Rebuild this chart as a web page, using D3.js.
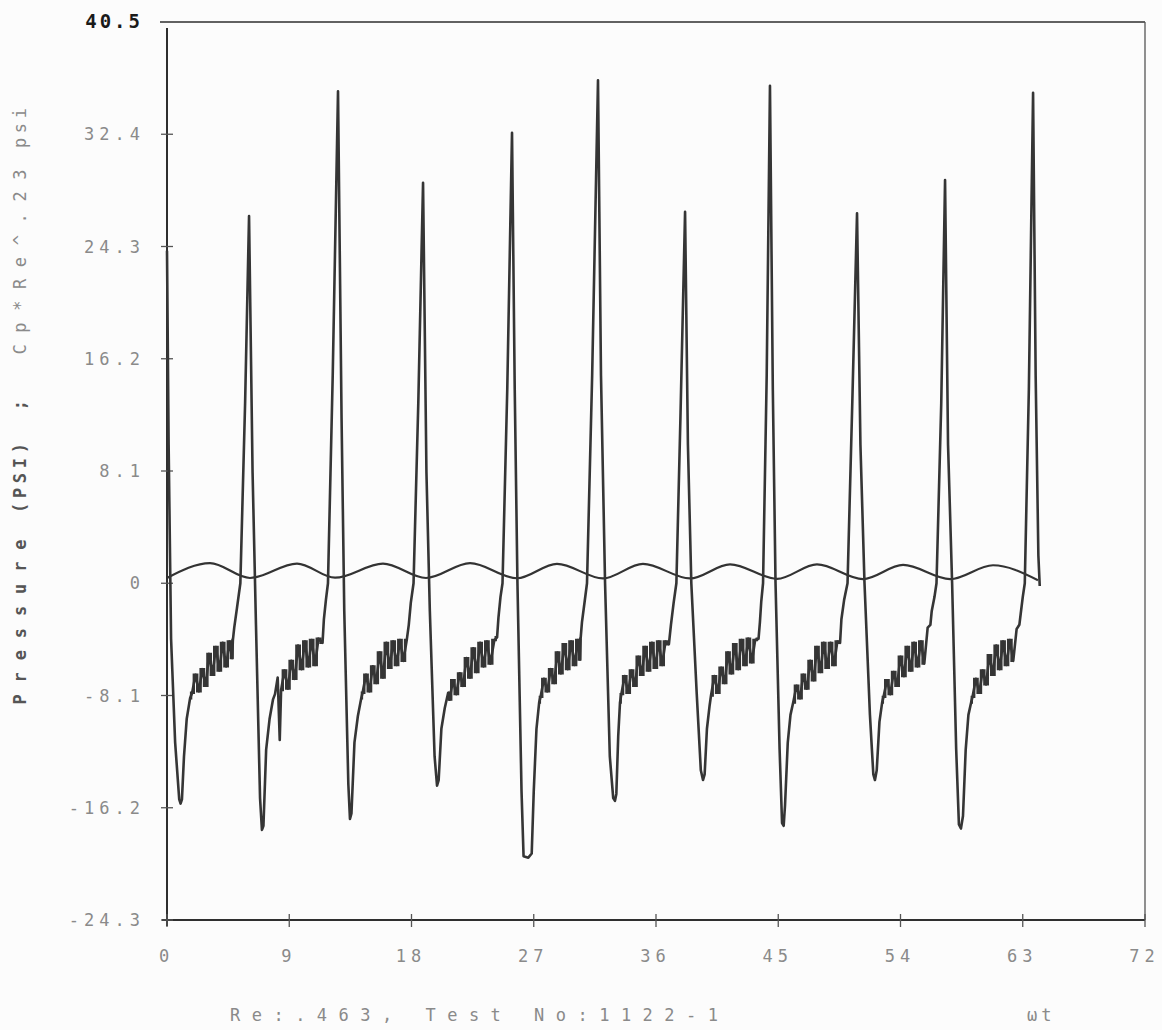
<!DOCTYPE html>
<html><head><meta charset="utf-8">
<script src="https://cdn.jsdelivr.net/npm/d3@7"></script>
<style>html,body{margin:0;padding:0;background:#fcfcfc;} svg{display:block;}</style>
</head><body><svg id="c" width="1162" height="1030"></svg>
<script>
// ---- data ----
const xTicks = [0, 9, 18, 27, 36, 45, 54, 63, 72];
const xTickLabels = ["0", "9", "18", "27", "36", "45", "54", "63", "72"];
const yTicks = [40.5, 32.4, 24.3, 16.2, 8.1, 0, -8.1, -16.2, -24.3];
const yTickLabels = ["40.5", "32.4", "24.3", "16.2", "8.1", "0", "-8.1", "-16.2", "-24.3"];

// Cp*Re^.23 wave (psi): extremes
const waveT = [0, 3.17, 6.11, 9.57, 12.37, 15.9, 19.07, 22.31, 25.77, 28.71, 32.10, 35.04, 38.5, 41.45, 44.91, 47.85, 51.24, 54.19, 57.65, 60.81, 64.12];
const waveV = [0.38, 1.45, 0.38, 1.42, 0.40, 1.42, 0.38, 1.45, 0.36, 1.40, 0.35, 1.40, 0.35, 1.36, 0.32, 1.36, 0.30, 1.32, 0.30, 1.30, 0.22];

// Pressure (psi) trace [wt, p]
const pressure = [
 [0,24.0],[0.12,10.0],[0.3,-4.0],[0.6,-11.5],[0.9,-15.6],[1.0,-15.9],[1.1,-15.6],[1.25,-12.5],[1.45,-9.8],[1.7,-8.3],
 [1.85,-7.9],[2.1,-6.6],[2.35,-7.8],[2.6,-6.2],[2.85,-7.4],[3.1,-5.1],[3.35,-6.6],[3.6,-4.6],[3.85,-6.3],[4.1,-4.3],[4.35,-6.0],[4.6,-4.2],[4.8,-5.4],[4.85,-4.1],
 [4.95,-3.2],[5.15,-1.8],[5.4,0.0],[5.75,13.0],[6.04,26.5],
 [6.3,8.0],[6.55,-3.0],[6.85,-15.5],[6.99,-17.8],[7.1,-17.5],[7.3,-12.0],[7.55,-9.8],[7.8,-8.4],
 [7.95,-8.0],[8.15,-6.8],[8.3,-11.3],[8.4,-7.7],[8.65,-6.3],[8.9,-7.6],[9.15,-5.6],[9.4,-6.9],[9.65,-4.5],[9.9,-6.2],[10.15,-4.2],[10.4,-6.0],[10.65,-4.1],[10.9,-5.9],[11.15,-4.0],[11.45,-4.3],
 [11.55,-2.6],[11.7,-1.2],[11.85,0.0],[12.2,15.0],[12.59,35.5],
 [12.85,12.0],[13.05,-2.0],[13.35,-14.5],[13.47,-17.0],[13.58,-16.6],[13.8,-11.5],[14.05,-9.6],[14.3,-8.3],
 [14.4,-7.9],[14.65,-6.6],[14.9,-7.8],[15.15,-6.0],[15.4,-7.2],[15.65,-5.0],[15.9,-6.8],[16.15,-4.3],[16.4,-6.1],[16.65,-4.2],[16.9,-5.9],[17.15,-4.1],[17.4,-5.6],[17.65,-4.1],
 [17.8,-3.0],[17.95,-1.4],[18.15,0.0],[18.5,13.0],[18.85,28.9],
 [19.1,8.0],[19.35,-2.0],[19.7,-12.5],[19.88,-14.6],[20.0,-14.2],[20.2,-10.5],[20.45,-9.0],[20.7,-7.9],
 [20.8,-8.4],[21.05,-7.0],[21.3,-8.0],[21.55,-6.5],[21.8,-7.4],[22.05,-5.4],[22.3,-6.8],[22.55,-4.7],[22.8,-6.4],[23.05,-4.3],[23.3,-6.0],[23.55,-4.2],[23.8,-5.8],[24.1,-4.1],[24.3,-3.9],
 [24.4,-2.5],[24.55,-1.0],[24.7,0.0],[25.05,14.0],[25.40,32.5],
 [25.6,14.0],[25.8,0.0],[26.1,-15.0],[26.25,-19.7],[26.6,-19.8],[26.85,-19.5],[27.0,-15.0],[27.2,-10.5],[27.4,-8.6],
 [27.5,-8.2],[27.75,-6.9],[28.0,-7.8],[28.25,-6.2],[28.5,-7.2],[28.75,-5.0],[29.0,-6.5],[29.25,-4.4],[29.5,-6.2],[29.75,-4.2],[30.0,-5.9],[30.25,-4.1],[30.4,-5.5],[30.45,-4.0],
 [30.55,-2.8],[30.75,-1.3],[30.92,0.0],[31.3,15.0],[31.73,36.3],
 [31.95,15.0],[32.25,0.0],[32.6,-12.5],[32.85,-15.5],[32.98,-15.7],[33.08,-15.2],[33.22,-11.0],[33.35,-8.6],
 [33.45,-8.0],[33.7,-6.7],[33.95,-7.9],[34.2,-6.3],[34.45,-7.4],[34.7,-5.3],[34.95,-6.6],[35.2,-4.6],[35.45,-6.3],[35.7,-4.3],[35.95,-6.1],[36.2,-4.2],[36.45,-5.9],[36.7,-4.2],[36.95,-4.4],
 [37.1,-3.0],[37.3,-1.4],[37.5,0.0],[37.8,12.0],[38.14,26.8],
 [38.35,10.0],[38.6,0.0],[39.0,-8.0],[39.3,-13.5],[39.46,-14.2],[39.58,-13.8],[39.75,-10.5],[39.95,-8.8],
 [40.05,-8.1],[40.3,-6.7],[40.55,-7.9],[40.8,-6.1],[41.05,-7.2],[41.3,-5.0],[41.55,-6.5],[41.8,-4.4],[42.05,-6.2],[42.3,-4.1],[42.55,-5.9],[42.8,-4.0],[43.05,-5.7],[43.3,-4.1],[43.55,-4.0],
 [43.65,-2.8],[43.75,-1.3],[43.88,0.0],[44.15,15.0],[44.39,35.9],
 [44.6,14.0],[44.8,0.0],[45.1,-12.0],[45.28,-17.3],[45.4,-17.5],[45.5,-16.0],[45.7,-11.5],[45.9,-9.5],
 [46.1,-8.6],[46.35,-7.4],[46.6,-8.3],[46.85,-6.6],[47.1,-7.6],[47.35,-5.6],[47.6,-7.0],[47.85,-4.6],[48.1,-6.4],[48.35,-4.3],[48.6,-6.1],[48.85,-4.3],[49.1,-5.9],[49.35,-4.2],[49.55,-4.3],
 [49.65,-2.6],[49.85,-1.2],[50.1,0.0],[50.45,13.0],[50.80,26.7],
 [51.05,10.0],[51.35,0.0],[51.75,-9.5],[52.0,-13.8],[52.12,-14.2],[52.25,-13.5],[52.45,-10.0],[52.65,-8.6],
 [52.75,-8.2],[53.0,-7.0],[53.25,-8.0],[53.5,-6.4],[53.75,-7.4],[54.0,-5.3],[54.25,-6.7],[54.5,-4.6],[54.75,-6.3],[55.0,-4.3],[55.25,-6.0],[55.5,-4.2],[55.75,-5.8],[56.0,-3.2],[56.2,-3.0],
 [56.3,-2.0],[56.5,-1.0],[56.65,0.0],[57.0,13.0],[57.28,29.1],
 [57.5,10.0],[57.8,0.0],[58.1,-12.0],[58.3,-17.4],[58.45,-17.7],[58.6,-16.8],[58.8,-12.0],[59.0,-9.5],[59.2,-8.6],
 [59.3,-8.2],[59.55,-6.9],[59.8,-7.9],[60.05,-6.3],[60.3,-7.3],[60.55,-5.2],[60.8,-6.6],[61.05,-4.5],[61.3,-6.2],[61.55,-4.2],[61.8,-5.9],[62.05,-4.1],[62.3,-5.6],[62.55,-3.3],[62.75,-3.0],
 [62.85,-2.2],[63.0,-1.0],[63.15,0.0],[63.45,14.0],[63.76,35.4],
 [63.95,15.0],[64.15,2.0],[64.25,-0.2]
];

const yTitleParts = ["Pressure", "(PSI)", ";", "Cp*Re^.23", "psi"];
const footLabel = "Re:.463,  Test No:1122-1";
const xTitle = "ωt";

// ---- drawing ----
const svg = d3.select("#c");
svg.append("rect").attr("width", 1162).attr("height", 1030).attr("fill", "#fcfcfc");

const x = d3.scaleLinear().domain([0, 72]).range([167, 1145]);
const y = d3.scaleLinear().domain([-24.3, 40.5]).range([920, 22]);

const ink = "#2f2f2f";
const mono = "'DejaVu Sans Mono', 'Liberation Mono', monospace";

// frame
svg.append("line").attr("x1", x(0) - 7).attr("x2", x(72)).attr("y1", y(40.5)).attr("y2", y(40.5))
  .attr("stroke", ink).attr("stroke-width", 1.6);
svg.append("line").attr("x1", x(72)).attr("x2", x(72)).attr("y1", y(40.5)).attr("y2", y(-24.3))
  .attr("stroke", "#555").attr("stroke-width", 1.3);
svg.append("line").attr("x1", x(0)).attr("x2", x(0)).attr("y1", y(40.5) + 6).attr("y2", y(-24.3) + 6)
  .attr("stroke", ink).attr("stroke-width", 2);
svg.append("line").attr("x1", x(0) - 5).attr("x2", x(72)).attr("y1", y(-24.3)).attr("y2", y(-24.3))
  .attr("stroke", ink).attr("stroke-width", 2.2);

// y ticks
const yAxis = d3.axisLeft(y).tickValues(yTicks).tickSize(0).tickFormat("");
const gy = svg.append("g").attr("transform", `translate(${x(0)},0)`).call(yAxis);
gy.select(".domain").remove();
svg.selectAll(".ytk").data(yTicks.filter(v => v !== 40.5)).enter().append("line")
  .attr("x1", x(0) - 6).attr("x2", x(0) + 6).attr("y1", d => y(d)).attr("y2", d => y(d))
  .attr("stroke", "#555").attr("stroke-width", 1.3);

// x ticks
const xAxis = d3.axisBottom(x).tickValues(xTicks).tickSize(0).tickFormat("");
const gx = svg.append("g").attr("transform", `translate(0,${y(-24.3)})`).call(xAxis);
gx.select(".domain").remove();
svg.selectAll(".xtk").data(xTicks).enter().append("line")
  .attr("x1", d => x(d)).attr("x2", d => x(d)).attr("y1", y(-24.3) - 6).attr("y2", y(-24.3) + 7)
  .attr("stroke", "#555").attr("stroke-width", 1.3);

// y tick labels
const LS = 5;
svg.selectAll(".ylab").data(yTicks).enter().append("text")
  .attr("x", (d, i) => i === 0 ? 140 + 3 : 140 + LS).attr("y", d => y(d) + 6)
  .attr("text-anchor", "end")
  .attr("font-family", mono).attr("font-size", (d, i) => i === 0 ? 19 : 17)
  .attr("letter-spacing", (d, i) => (i === 0 ? 3 : LS) + "px")
  .attr("fill", (d, i) => i === 0 ? "#1a1a1a" : "#8a8a8a")
  .attr("font-weight", (d, i) => i === 0 ? "bold" : "normal")
  .text((d, i) => yTickLabels[i]);

// x tick labels
svg.selectAll(".xlab").data(xTicks).enter().append("text")
  .attr("x", d => x(d) - 3 + LS / 2).attr("y", 962)
  .attr("text-anchor", "middle")
  .attr("font-family", mono).attr("font-size", 17).attr("letter-spacing", LS + "px")
  .attr("fill", "#8a8a8a")
  .text((d, i) => xTickLabels[i]);

// y title (rotated pieces)
const titleSpans = [
  {t: yTitleParts[0], c: 622, len: 165, w: "bold", col: "#555"},
  {t: yTitleParts[1], c: 478, len: 70, w: "bold", col: "#555"},
  {t: yTitleParts[2], c: 405, len: 8, w: "bold", col: "#555"},
  {t: yTitleParts[3], c: 262, len: 185, w: "normal", col: "#8a8a8a"},
  {t: yTitleParts[4], c: 128, len: 40, w: "normal", col: "#8a8a8a"}
];
titleSpans.forEach(s => {
  const tx = svg.append("text")
    .attr("transform", `translate(26,${s.c}) rotate(-90)`)
    .attr("text-anchor", "middle")
    .attr("font-family", mono).attr("font-size", 17)
    .attr("font-weight", s.w).attr("fill", s.col)
    .text(s.t);
  if (s.t.length > 1) tx.attr("textLength", s.len).attr("lengthAdjust", "spacing");
});

// bottom labels
svg.append("text").attr("x", 230).attr("y", 1021)
  .attr("font-family", mono).attr("font-size", 17).attr("fill", "#8a8a8a")
  .attr("textLength", 488).attr("lengthAdjust", "spacing")
  .text(footLabel);
svg.append("text").attr("x", 1027).attr("y", 1021)
  .attr("font-family", mono).attr("font-size", 17).attr("fill", "#8a8a8a")
  .attr("letter-spacing", "4px")
  .text(xTitle);

// series
const wave = waveT.map((t, i) => [t, waveV[i]]);
svg.append("path").datum(wave)
  .attr("d", d3.line().x(d => x(d[0])).y(d => y(d[1])).curve(d3.curveMonotoneX))
  .attr("fill", "none").attr("stroke", "#333").attr("stroke-width", 2.2);

svg.append("path").datum(pressure)
  .attr("d", d3.line().x(d => x(d[0])).y(d => y(d[1])))
  .attr("fill", "none").attr("stroke", "#353535").attr("stroke-width", 2.6)
  .attr("stroke-linejoin", "round");

// stair-step rendering of the noisy plateau portions (same points, step curve)
const runs = [];
let cur = [];
pressure.forEach(p => {
  if (p[1] <= -3.8 && p[1] >= -8.7) cur.push(p);
  else { if (cur.length >= 5) runs.push(cur); cur = []; }
});
if (cur.length >= 5) runs.push(cur);
svg.selectAll(".band").data(runs).enter().append("path")
  .attr("d", d3.line().x(d => x(d[0])).y(d => y(d[1])).curve(d3.curveStep))
  .attr("fill", "none").attr("stroke", "#353535").attr("stroke-width", 2.4)
  .attr("stroke-linejoin", "miter");
</script>
</body></html>
